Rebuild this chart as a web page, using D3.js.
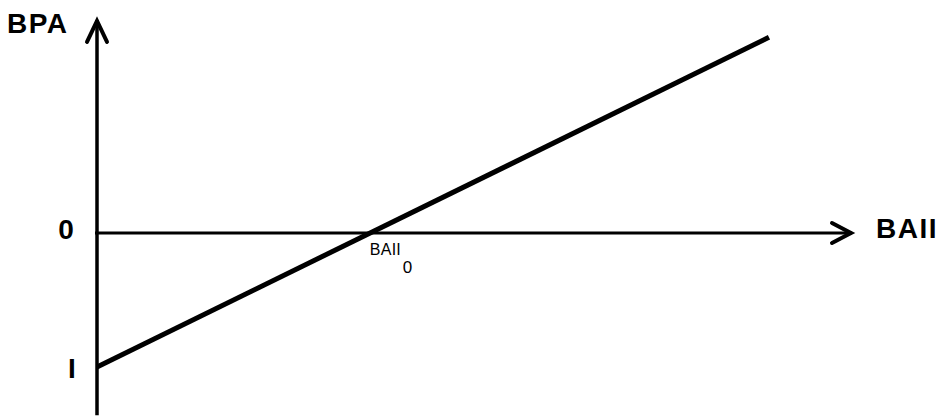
<!DOCTYPE html>
<html>
<head>
<meta charset="utf-8">
<script src="https://cdn.jsdelivr.net/npm/d3@7"></script>
<style>
  body { margin: 0; background: #fff; }
  text { font-family: "Liberation Sans", Arial, sans-serif; fill: #000; }
  .big { font-size: 28px; font-weight: bold; }
  .small { font-size: 16px; }
</style>
</head>
<body>
<script>
// EBIT (BAII) on x, EPS (BPA) on y
var baiiVals = [0, 89];
var bpaVals = [-1, 1.46];
var baii0 = 36;
var yTickVals = [0, -1];
var yTickLabels = ["0", "I"];

var width = 943, height = 417;

var x = d3.scaleLinear().domain([0, 100]).range([97, 852]);
var y = d3.scaleLinear().domain([-1, 0]).range([367, 233]);

var svg = d3.select("body").append("svg")
    .attr("width", width)
    .attr("height", height);

var data = baiiVals.map(function(d, i) { return {baii: d, bpa: bpaVals[i]}; });

// axes
svg.append("line")
    .attr("x1", x(0)).attr("x2", x(0))
    .attr("y1", y(1.59)).attr("y2", y(-1.36))
    .attr("stroke", "#000").attr("stroke-width", 3.5);

svg.append("line")
    .attr("x1", x(0) - 2).attr("x2", x(100))
    .attr("y1", y(0)).attr("y2", y(0))
    .attr("stroke", "#000").attr("stroke-width", 3);

// arrow heads
svg.append("path")
    .attr("d", "M" + (x(0) - 10) + "," + (y(1.59) + 22) + "L" + x(0) + "," + (y(1.59) + 1) + "L" + (x(0) + 10) + "," + (y(1.59) + 22))
    .attr("fill", "none").attr("stroke", "#000").attr("stroke-width", 4)
    .attr("stroke-linecap", "round").attr("stroke-linejoin", "miter");

svg.append("path")
    .attr("d", "M" + (x(100) - 20) + "," + (y(0) - 10) + "L" + (x(100) - 1) + "," + y(0) + "L" + (x(100) - 20) + "," + (y(0) + 10))
    .attr("fill", "none").attr("stroke", "#000").attr("stroke-width", 4)
    .attr("stroke-linecap", "round");

// EPS line
var line = d3.line()
    .x(function(d) { return x(d.baii); })
    .y(function(d) { return y(d.bpa); });

svg.append("path")
    .datum(data)
    .attr("d", line)
    .attr("fill", "none")
    .attr("stroke", "#000")
    .attr("stroke-width", 5);

// labels
svg.append("text").attr("class", "big")
    .attr("x", 7).attr("y", 33)
    .attr("letter-spacing", 1.5)
    .text("BPA");

svg.selectAll(".ytick")
    .data(yTickVals)
  .enter().append("text")
    .attr("class", "big ytick")
    .attr("x", function(d, i) { return i == 0 ? 66 : 72; })
    .attr("y", function(d) { return y(d) + (d == 0 ? 6 : 11); })
    .attr("text-anchor", "middle")
    .text(function(d, i) { return yTickLabels[i]; });

svg.append("text").attr("class", "big")
    .attr("x", 876).attr("y", y(0) + 5)
    .attr("letter-spacing", 1.5)
    .text("BAII");

svg.append("text").attr("class", "small")
    .attr("x", x(baii0) + 1).attr("y", y(0) + 22)
    .attr("textLength", 31)
    .text("BAII");

svg.append("text").attr("class", "small")
    .attr("x", x(baii0) + 34).attr("y", y(0) + 40)
    .style("font-size", "17px")
    .text("0");
</script>
</body>
</html>
